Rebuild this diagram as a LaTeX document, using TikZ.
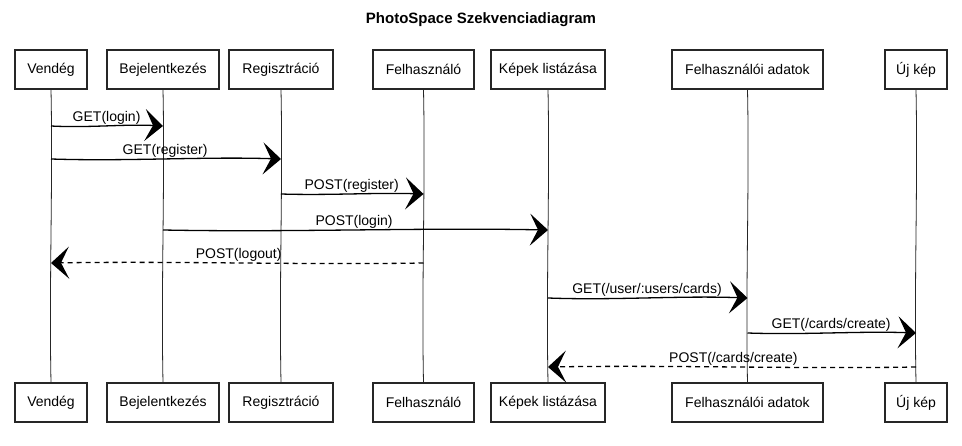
\documentclass[tikz,border=0pt]{standalone}
\usepackage{fontspec}
\setmainfont{Liberation Sans}
\usetikzlibrary{arrows.meta,calc}
\begin{document}
\begin{tikzpicture}[x=1pt,y=-1pt,
  actor/.style={draw=black!85, line width=1.2pt, minimum height=39pt, inner sep=0pt,
    font=\fontsize{14}{16}\selectfont, fill=white},
  wob/.style={to path={.. controls ($(\tikztostart)!0.33!(\tikztotarget)+(0,#1)$) and ($(\tikztostart)!0.66!(\tikztotarget)+(0,-#1)$) .. (\tikztotarget) \tikztonodes}},
  wobv/.style={to path={.. controls ($(\tikztostart)!0.33!(\tikztotarget)+(#1,0)$) and ($(\tikztostart)!0.66!(\tikztotarget)+(-#1,0)$) .. (\tikztotarget) \tikztonodes}},
  life/.style={line width=0.8pt, black!85},
  msg/.style={line width=1.3pt, -{Stealth[length=18pt,width=32pt,inset=8pt]}},
  ret/.style={msg, dash pattern=on 5pt off 4pt},
  lbl/.style={font=\fontsize{14}{16}\selectfont, inner sep=0pt, anchor=base, yshift=4pt, pos=0.5}]
\useasboundingbox (0,0) rectangle (962,446);
\fill[white] (0,0) rectangle (962,446);
\node[font=\fontsize{15}{17}\selectfont\bfseries] (title) at (481,20) {PhotoSpace Szekvenciadiagram};
% top boxes
\node[actor, minimum width=72pt]  (t1) at (51,69.5)  {Vendég};
\node[actor, minimum width=112pt] (t2) at (163,69.5) {Bejelentkezés};
\node[actor, minimum width=104pt] (t3) at (281,69.5) {Regisztráció};
\node[actor, minimum width=101pt] (t4) at (423.5,69.5) {Felhasználó};
\node[actor, minimum width=114pt] (t5) at (548,69.5) {Képek listázása};
\node[actor, minimum width=151pt] (t6) at (747.5,69.5) {Felhasználói adatok};
\node[actor, minimum width=62pt]  (t7) at (916,69.5) {Új kép};
% bottom boxes
\node[actor, minimum width=72pt]  (b1) at (51,402.5)  {Vendég};
\node[actor, minimum width=112pt] (b2) at (163,402.5) {Bejelentkezés};
\node[actor, minimum width=104pt] (b3) at (281,402.5) {Regisztráció};
\node[actor, minimum width=101pt] (b4) at (423.5,402.5) {Felhasználó};
\node[actor, minimum width=114pt] (b5) at (548,402.5) {Képek listázása};
\node[actor, minimum width=151pt] (b6) at (747.5,402.5) {Felhasználói adatok};
\node[actor, minimum width=62pt]  (b7) at (916,402.5) {Új kép};
% lifelines
\foreach \i in {1,...,7} { \draw[life, wobv=2] (t\i.south) to (b\i.north); }
% message rows
\coordinate (y1) at (0,126);
\coordinate (y2) at (0,159);
\coordinate (y3) at (0,194);
\coordinate (y4) at (0,230);
\coordinate (y5) at (0,263);
\coordinate (y6) at (0,298);
\coordinate (y7) at (0,333);
\coordinate (y8) at (0,367);
\draw[msg, wob=2] (t1 |- y1) to node[lbl] (l1) {GET(login)} (t2 |- y1);
\draw[msg, wob=2.5] (t1 |- y2) to node[lbl] (l2) {GET(register)} (t3 |- y2);
\draw[msg, wob=1.5] (t3 |- y3) to node[lbl] (l3) {POST(register)} (t4 |- y3);
\draw[msg, wob=2.5] (t2 |- y4) to node[lbl] (l4) {POST(login)} (t5 |- y4);
\draw[ret, wob=2] (t4 |- y5) to node[lbl] (l5) {POST(logout)} (t1 |- y5);
\draw[msg, wob=2.5] (t5 |- y6) to node[lbl] (l6) {GET(/user/:users/cards)} (t6 |- y6);
\draw[msg, wob=2] (t6 |- y7) to node[lbl] (l7) {GET(/cards/create)} (t7 |- y7);
\draw[ret, wob=2] (t7 |- y8) to node[lbl] (l8) {POST(/cards/create)} (t5 |- y8);
\end{tikzpicture}
\end{document}
